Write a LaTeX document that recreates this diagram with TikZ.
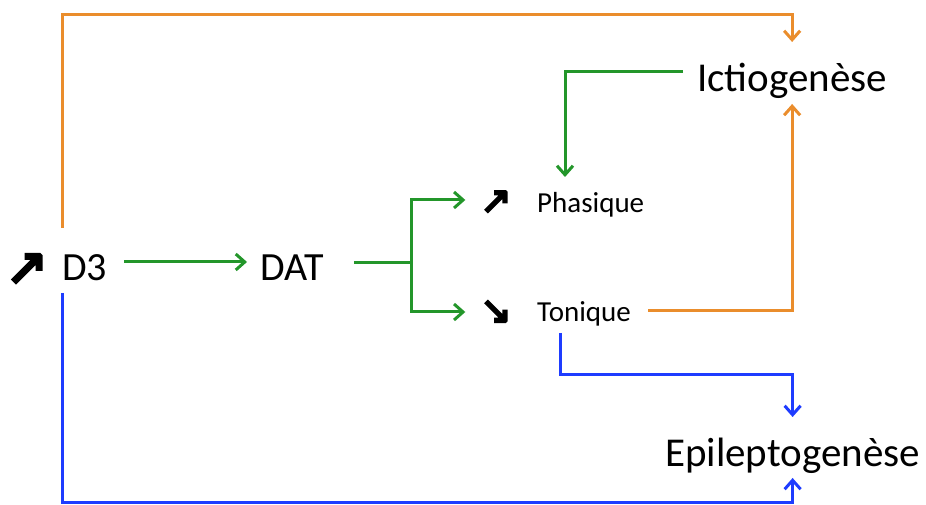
\documentclass[tikz,border=0pt]{standalone}
\usepackage{fontspec}
\setmainfont{Carlito}
\newfontfamily\symf[FakeBold=6]{DejaVu Sans}
\usetikzlibrary{arrows.meta,calc}
\definecolor{orng}{HTML}{EA8D2C}
\definecolor{grn}{HTML}{23962A}
\definecolor{blu}{HTML}{1E3CFF}
\begin{document}
\begin{tikzpicture}[x=1pt,y=1pt,
  lbl/.style={inner sep=0pt,anchor=base west,font=\fontsize{40}{44}\selectfont},
  slbl/.style={inner sep=0pt,anchor=base west,font=\fontsize{29}{32}\selectfont},
  bigarr/.style={inner sep=0pt,font=\symf\fontsize{50}{52}\selectfont},
  smarr/.style={inner sep=0pt,font=\symf\fontsize{37}{40}\selectfont},
  conn/.style={line width=3pt},
  tip/.style={-{Straight Barb[length=9pt,width=16pt]}},
  oc/.style={conn,draw=orng},
  gc/.style={conn,draw=grn},
  bc/.style={conn,draw=blu}]
\useasboundingbox (0,0) rectangle (926,505);
% nodes
\node[bigarr] (up1) at (27,236) {↗};
\node[lbl] (d3) at (62,224) {D3};
\node[lbl] (dat) at (260,224) {DAT};
\node[smarr] (up2) at (496,303) {↗};
\node[slbl] (pha) at (537,292) {Phasique};
\node[smarr] (dn) at (496,193) {↘};
\node[slbl] (ton) at (537,183) {Tonique};
\node[lbl,font=\fontsize{41}{44}\selectfont] (ict) at (697,413) {Ictiogenèse};
\node[lbl,font=\fontsize{41}{44}\selectfont] (epi) at (665,38) {Epileptogenèse};
% connectors
\draw[oc,tip] ($(d3.base west)+(0,53)$) |- ($(ict.base)+(0,77)$) -- ($(ict.base)+(0,50)$);
\draw[bc,tip] ($(d3.base west)+(0,-12)$) |- ($(epi.base)+(0,-36)$) -- ($(epi.base)+(0,-11)$);
\draw[gc,tip] ($(d3.base east)+(17,19)$) -- ($(dat.base west)+(-13,19)$);
\coordinate (fork) at ($(dat.base east)+(88,18)$);
\draw[gc] ($(dat.base east)+(30,18)$) -- (fork);
\draw[gc,tip] (fork) |- ($(up2.west)+(-15,2)$);
\draw[gc,tip] (fork) |- ($(dn.west)+(-15,0)$);
\draw[gc,tip] ($(ict.base west)+(-14,20)$) -| ($(pha.base west)+(28,36)$);
\draw[oc,tip] ($(ton.base east)+(17,11)$) -| ($(ict.base)+(0,-12)$);
\draw[bc,tip] ($(ton.base west)+(23,-11)$) |- ($(epi.base)+(0,92)$) -- ($(epi.base)+(0,50)$);
\end{tikzpicture}
\end{document}
